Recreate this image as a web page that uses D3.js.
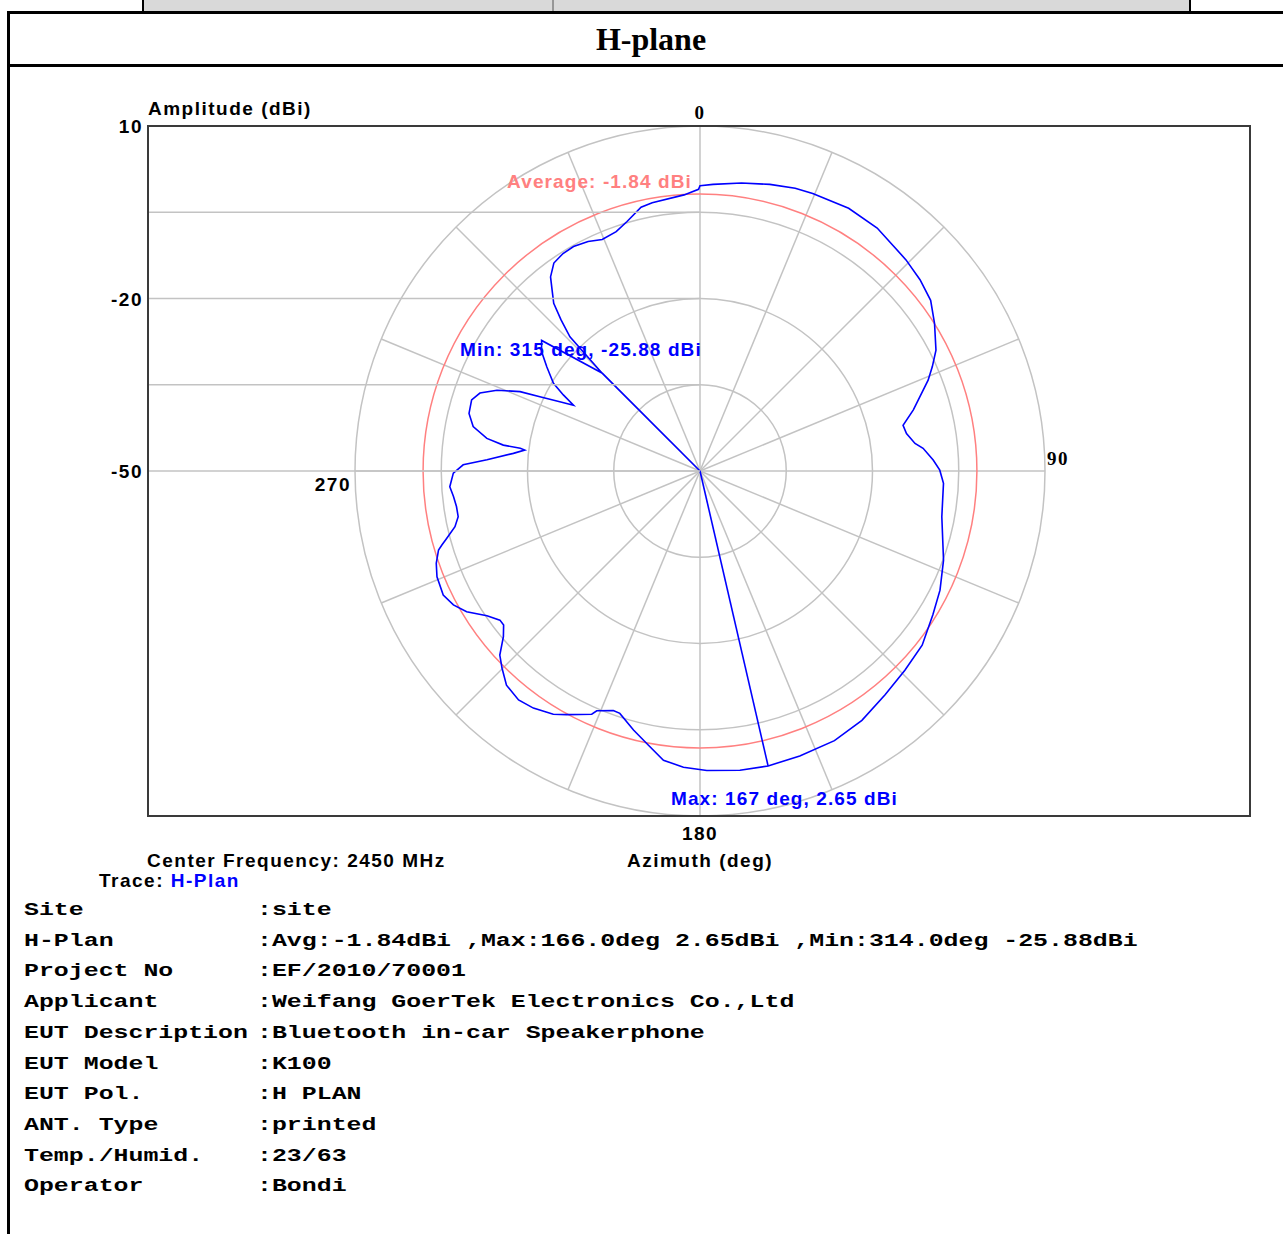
<!DOCTYPE html>
<html>
<head>
<meta charset="utf-8">
<script src="https://cdn.jsdelivr.net/npm/d3@7"></script>
<style>
  body { margin: 0; background: #fff; }
  text { font-family: "Liberation Sans", Arial, sans-serif; font-weight: bold; }
</style>
</head>
<body>
<svg id="chart" width="1283" height="1234"></svg>
<script>
'use strict';

// H-plane trace (azimuth in deg, amplitude in dBi)
const azimuthDeg = [0, 2.6, 8.2, 13.7, 18.6, 22.1, 29.5, 36.1, 44.3, 49.0, 53.5, 57.8, 62.9, 65.8, 68.3,
  74.0, 77.3, 79.7, 82.7, 84.2, 87.3, 89.8, 92.9, 100.7, 110.1, 116.4, 121.7, 128.1, 134.2, 140.4,
  147.0, 153.5, 160.7, 167.0, 172.4, 178.7, 183.2, 187.2, 190.7, 194.4, 198.3, 199.9, 203.3, 204.0,
  208.7, 211.1, 215.1, 218.4, 222.1, 225.1, 227.4, 229.9, 231.9, 233.3, 235.8, 238.9, 241.5, 244.2,
  248.1, 250.7, 253.2, 254.0, 255.1, 257.2, 259.3, 261.7, 264.1, 266.4, 269.5, 271.5, 273.0, 275.4,
  276.8, 277.2, 277.5, 278.7, 281.1, 284.0, 287.3, 289.5, 291.7, 293.8, 294.9, 296.3, 297.5, 299.1,
  300.9, 304.2, 307.0, 309.5, 315.0, 315.9, 317.4, 318.9, 320.7, 322.4, 324.9, 327.8, 330.6, 334.0,
  337.1, 340.7, 343.7, 347.4, 349.9, 356.7, 359.7];
const amplitudeDbi = [-0.4, -0.1, 0.6, 1.3, 1.9, 2.1, 2.5, 2.3, 1.3, 0.7, -0.1, -1.8, -3.9, -5.7, -7.3,
  -11.4, -13.8, -13.5, -12.3, -11.0, -9.4, -8.3, -7.6, -7.2, -4.9, -3.4, -2.4, -0.9, -0.3, 0.5,
  1.7, 2.4, 2.5, 2.65, 2.5, 2.1, 1.6, 0.7, -1.5, -3.5, -5.6, -5.7, -4.6, -3.7,
  -1.7, -0.6, 0.4, 0.8, 0.2, -1.4, -2.7, -5.3, -6.6, -6.6, -5.2, -2.6, -1.2, -0.4,
  -0.7, -1.4, -2.5, -3.3, -4.4, -6.3, -7.2, -7.2, -6.9, -6.4, -7.1, -8.8, -12.9, -17.4,
  -19.3, -18.5, -15.5, -12.5, -9.8, -8.6, -8.4, -9.4, -12.0, -15.8, -19.3, -22.8, -25.2, -22.8,
  -20.3, -17.8, -15.5, -14.3, -25.88, -17.5, -14.3, -11.3, -9.4, -7.4, -5.8, -5.3, -5.2, -5.6,
  -6.3, -5.9, -4.8, -3.0, -2.6, -1.9, -1.0];

const ringLevels = [-35, -20, -5, 10];
const gridLevels = [-5, -20, -35, -50];
const ampTickLabels = [10, -20, -50];
const spokeDeg = [0, 22.5, 45, 67.5, 90, 112.5, 135, 157.5, 180, 202.5, 225, 247.5, 270, 292.5, 315, 337.5];
const azimuthTickLabels = ['0', '90', '180', '270'];

const averageDbi = -1.84;
const maxAzimuth = 167, maxDbi = 2.65;
const minAzimuth = 315, minDbi = -25.88;

const infoKeys = ['Site', 'H-Plan', 'Project No', 'Applicant', 'EUT Description', 'EUT Model',
  'EUT Pol.', 'ANT. Type', 'Temp./Humid.', 'Operator'];
const infoValues = [':site', ':Avg:-1.84dBi ,Max:166.0deg 2.65dBi ,Min:314.0deg -25.88dBi',
  ':EF/2010/70001', ':Weifang GoerTek Electronics Co.,Ltd', ':Bluetooth in-car Speakerphone',
  ':K100', ':H PLAN', ':printed', ':23/63', ':Bondi'];

const svg = d3.select('#chart');
const BLUE = '#0000ff', PINK = '#ff8080', GRID = '#c3c3c3';

// ---- report table frame ----
svg.append('rect').attr('x', 143).attr('y', 0).attr('width', 1047).attr('height', 12).attr('fill', '#d9d9d9');
[[143, 2, '#000'], [553, 1, '#555'], [1190, 2, '#000']].forEach(v => {
  svg.append('line').attr('x1', v[0]).attr('x2', v[0]).attr('y1', 0).attr('y2', 12)
    .attr('stroke', v[2]).attr('stroke-width', v[1]);
});
svg.append('line').attr('x1', 7).attr('x2', 1283).attr('y1', 12.5).attr('y2', 12.5)
  .attr('stroke', '#000').attr('stroke-width', 3);
svg.append('line').attr('x1', 7).attr('x2', 1283).attr('y1', 65.5).attr('y2', 65.5)
  .attr('stroke', '#000').attr('stroke-width', 3);
svg.append('line').attr('x1', 8.5).attr('x2', 8.5).attr('y1', 11).attr('y2', 1234)
  .attr('stroke', '#000').attr('stroke-width', 3);

svg.append('text').attr('x', 651).attr('y', 50).attr('text-anchor', 'middle')
  .style('font-family', '"Liberation Serif", "Times New Roman", serif')
  .style('font-size', '32px').text('H-plane');

// ---- polar plot ----
const cx = 700, cy = 471;
const rScale = d3.scaleLinear().domain([-50, 10]).range([0, 345]).clamp(true);
const R = rScale(10);
const boxLeft = 148, boxRight = 1250;
const rad = d => d * Math.PI / 180;

const g = svg.append('g').attr('transform', `translate(${cx},${cy})`);

// amplitude grid lines on the left
gridLevels.forEach(v => {
  svg.append('line').attr('x1', boxLeft).attr('x2', cx)
    .attr('y1', cy - rScale(v)).attr('y2', cy - rScale(v))
    .attr('stroke', GRID).attr('stroke-width', 1.5);
});

// rings
g.selectAll('.ring').data(ringLevels).enter().append('circle')
  .attr('r', d => rScale(d)).attr('fill', 'none')
  .attr('stroke', GRID).attr('stroke-width', 1.5);

// spokes
const spokeLine = d3.lineRadial().angle(d => rad(d[0])).radius(d => rScale(d[1]));
g.selectAll('.spoke').data(spokeDeg).enter().append('path')
  .attr('d', d => spokeLine([[d, -50], [d, 10]]))
  .attr('stroke', GRID).attr('stroke-width', 1.5).attr('fill', 'none');

// average circle
g.append('circle').attr('r', rScale(averageDbi)).attr('fill', 'none')
  .attr('stroke', PINK).attr('stroke-width', 1.5);

// trace
const tracePts = azimuthDeg.map((a, i) => [a, amplitudeDbi[i]]);
const traceLine = d3.lineRadial().angle(d => rad(d[0])).radius(d => rScale(d[1]))
  .curve(d3.curveLinearClosed);
g.append('path').attr('d', traceLine(tracePts)).attr('fill', 'none')
  .attr('stroke', BLUE).attr('stroke-width', 1.6);

// max / min marker lines from the centre
[[maxAzimuth, maxDbi], [minAzimuth, minDbi]].forEach(m => {
  g.append('path').attr('d', spokeLine([[m[0], -50], m]))
    .attr('stroke', BLUE).attr('stroke-width', 1.6).attr('fill', 'none');
});

// plot frame
svg.append('rect').attr('x', boxLeft).attr('y', cy - R)
  .attr('width', boxRight - boxLeft).attr('height', 2 * R)
  .attr('fill', 'none').attr('stroke', '#3a3a3a').attr('stroke-width', 2);

// text helper
const lbl = (x, y, t, anchor) => svg.append('text').attr('x', x).attr('y', y)
  .attr('text-anchor', anchor || 'start').style('font-size', '19px')
  .style('letter-spacing', '1.5px').text(t);

ampTickLabels.forEach(v => lbl(143, cy - rScale(v) + 7, v, 'end'));
lbl(148, 115, 'Amplitude (dBi)');

// azimuth labels
const serif = '"Liberation Serif", "Times New Roman", serif';
lbl(cx, cy - R - 7, azimuthTickLabels[0], 'middle').style('font-family', serif);
lbl(cx + R + 2, cy - 6, azimuthTickLabels[1]).style('font-family', serif);
lbl(cx, cy + R + 24, azimuthTickLabels[2], 'middle');
lbl(cx - R - 4, cy + 20, azimuthTickLabels[3], 'end');

// annotations
lbl(cx - 8, cy - rScale(averageDbi) - 6, 'Average: ' + averageDbi + ' dBi', 'end')
  .attr('fill', PINK).style('letter-spacing', '1.1px');
lbl(460, 356, 'Min: ' + minAzimuth + ' deg, ' + minDbi + ' dBi')
  .attr('fill', BLUE).style('letter-spacing', '1.1px');
lbl(671, 805, 'Max: ' + maxAzimuth + ' deg, ' + maxDbi + ' dBi')
  .attr('fill', BLUE).style('letter-spacing', '1.1px');

lbl(cx, 867, 'Azimuth (deg)', 'middle');
lbl(147, 867, 'Center Frequency: 2450 MHz');
const tr = lbl(99, 887, 'Trace: ');
tr.append('tspan').attr('fill', BLUE).text('H-Plan');

// ---- info block ----
const info = svg.append('g')
  .style('font-family', '"Liberation Mono", "DejaVu Sans Mono", monospace')
  .style('font-size', '19px');
infoKeys.forEach((k, i) => {
  const y = 915 + i * 30.7;
  info.append('text').attr('transform', `translate(24,${y}) scale(1.31,1)`)
    .style('font-family', 'inherit').style('white-space', 'pre').text(k);
  info.append('text').attr('transform', `translate(257,${y}) scale(1.31,1)`)
    .style('font-family', 'inherit').style('white-space', 'pre').text(infoValues[i]);
});
</script>
</body>
</html>
